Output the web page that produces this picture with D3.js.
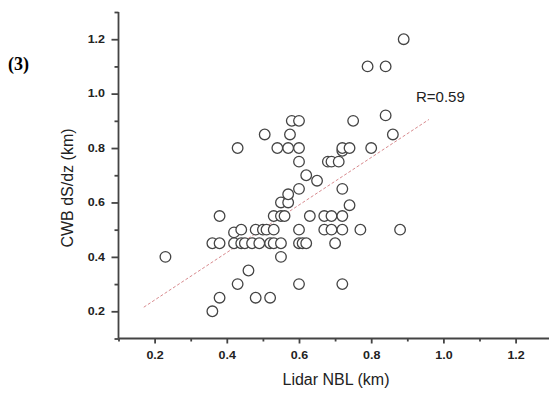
<!DOCTYPE html>
<html>
<head>
<meta charset="utf-8">
<script src="https://cdn.jsdelivr.net/npm/d3@7"></script>
<style>
  body { margin: 0; background: #fff; }
  svg { display: block; }
  text { font-family: "Liberation Sans", Arial, sans-serif; fill: #222; }
  .axis path, .axis line { stroke: #444; stroke-width: 1.8; }
  .tick-label { font-weight: bold; font-size: 10px; }
</style>
</head>
<body>
<svg width="549" height="393"></svg>
<script>
// Lidar NBL (km) vs CWB dS/dz (km)
const nblKm = [
  0.23, 0.36, 0.38, 0.43, 0.46, 0.48, 0.52, 0.55, 0.60, 0.72,
  0.36, 0.38, 0.42, 0.44, 0.45, 0.47, 0.49, 0.52, 0.53, 0.55, 0.60, 0.61, 0.62, 0.70,
  0.42, 0.44, 0.48, 0.50, 0.51, 0.53, 0.60, 0.67, 0.69, 0.72, 0.77, 0.88,
  0.38, 0.53, 0.55, 0.56, 0.63, 0.67, 0.69, 0.72,
  0.74, 0.55, 0.57, 0.57, 0.60, 0.72, 0.65, 0.62,
  0.60, 0.68, 0.69, 0.71, 0.72,
  0.43, 0.54, 0.57, 0.60, 0.72, 0.74, 0.80,
  0.505, 0.575, 0.86, 0.58, 0.60, 0.75, 0.84, 0.79, 0.84, 0.89
];
const cwbKm = [
  0.40, 0.20, 0.25, 0.30, 0.35, 0.25, 0.25, 0.40, 0.30, 0.30,
  0.45, 0.45, 0.45, 0.45, 0.45, 0.45, 0.45, 0.45, 0.45, 0.45, 0.45, 0.45, 0.45, 0.45,
  0.49, 0.50, 0.50, 0.50, 0.50, 0.50, 0.50, 0.50, 0.50, 0.50, 0.50, 0.50,
  0.55, 0.55, 0.55, 0.55, 0.55, 0.55, 0.55, 0.55,
  0.59, 0.60, 0.60, 0.63, 0.65, 0.65, 0.68, 0.70,
  0.75, 0.75, 0.75, 0.75, 0.79,
  0.80, 0.80, 0.80, 0.80, 0.80, 0.80, 0.80,
  0.85, 0.85, 0.85, 0.90, 0.90, 0.90, 0.92, 1.10, 1.10, 1.20
];
// regression line ends
const fitX = [0.17, 0.96];
const fitY = [0.215, 0.905];
const majorTicks = [0.2, 0.4, 0.6, 0.8, 1.0, 1.2];
const minorTicks = [0.1, 0.3, 0.5, 0.7, 0.9, 1.1, 1.3];

const svg = d3.select("svg");
const plotLeft = 118.5, plotRight = 551.7, plotTop = 12, plotBottom = 338.5;

const x = d3.scaleLinear().domain([0.1, 1.3]).range([plotLeft, plotRight]);
const y = d3.scaleLinear().domain([0.1, 1.3]).range([plotBottom, plotTop]);

// minor ticks
svg.append("g").attr("class", "axis")
  .attr("transform", "translate(0," + plotBottom + ")")
  .call(d3.axisBottom(x).tickValues(minorTicks).tickSize(3).tickFormat(""))
  .select(".domain").remove();
svg.append("g").attr("class", "axis")
  .attr("transform", "translate(" + plotLeft + ",0)")
  .call(d3.axisLeft(y).tickValues(minorTicks).tickSize(4).tickFormat(""))
  .select(".domain").remove();

// major ticks + domain
const xAxis = svg.append("g").attr("class", "axis")
  .attr("transform", "translate(0," + plotBottom + ")")
  .call(d3.axisBottom(x).tickValues(majorTicks).tickSize(5).tickSizeOuter(0).tickFormat(d3.format(".1f")));
xAxis.selectAll("text")
  .attr("class", "tick-label")
  .attr("y", 13.5)
  .attr("transform", "scale(1.25,1)");

const yAxis = svg.append("g").attr("class", "axis")
  .attr("transform", "translate(" + plotLeft + ",0)")
  .call(d3.axisLeft(y).tickValues(majorTicks).tickSize(7).tickSizeOuter(0).tickFormat(d3.format(".1f")));
yAxis.selectAll("text")
  .attr("class", "tick-label")
  .attr("x", -13.5 / 1.25)
  .attr("transform", "scale(1.25,1)");
yAxis.select(".domain").attr("d", "M0," + plotBottom + "V" + plotTop);
xAxis.select(".domain").attr("d", "M" + plotLeft + ",0H" + plotRight);

// regression line
svg.append("line")
  .attr("x1", x(fitX[0])).attr("y1", y(fitY[0]))
  .attr("x2", x(fitX[1])).attr("y2", y(fitY[1]))
  .attr("stroke", "#d88a8e")
  .attr("stroke-width", 1)
  .attr("stroke-dasharray", "3,2");

// points
svg.append("g").selectAll("circle")
  .data(nblKm.map((v, i) => [v, cwbKm[i]]))
  .enter().append("circle")
  .attr("cx", d => x(d[0]))
  .attr("cy", d => y(d[1]))
  .attr("r", 5.3)
  .attr("fill", "#fff")
  .attr("stroke", "#444")
  .attr("stroke-width", 1.3);

svg.append("text")
  .attr("x", 416).attr("y", 102)
  .style("font-size", "15px")
  .text("R=0.59");

svg.append("text")
  .attr("transform", "translate(73,188) rotate(-90)")
  .attr("text-anchor", "middle")
  .style("font-size", "16px")
  .text("CWB dS/dz (km)");

svg.append("text")
  .attr("x", 336).attr("y", 385)
  .attr("text-anchor", "middle")
  .style("font-size", "16px")
  .text("Lidar NBL (km)");

svg.append("text")
  .attr("x", 8).attr("y", 70)
  .style("font-family", "'Liberation Serif', 'Times New Roman', serif")
  .style("font-weight", "bold")
  .style("font-size", "18px")
  .style("fill", "#000")
  .text("(3)");
</script>
</body>
</html>
